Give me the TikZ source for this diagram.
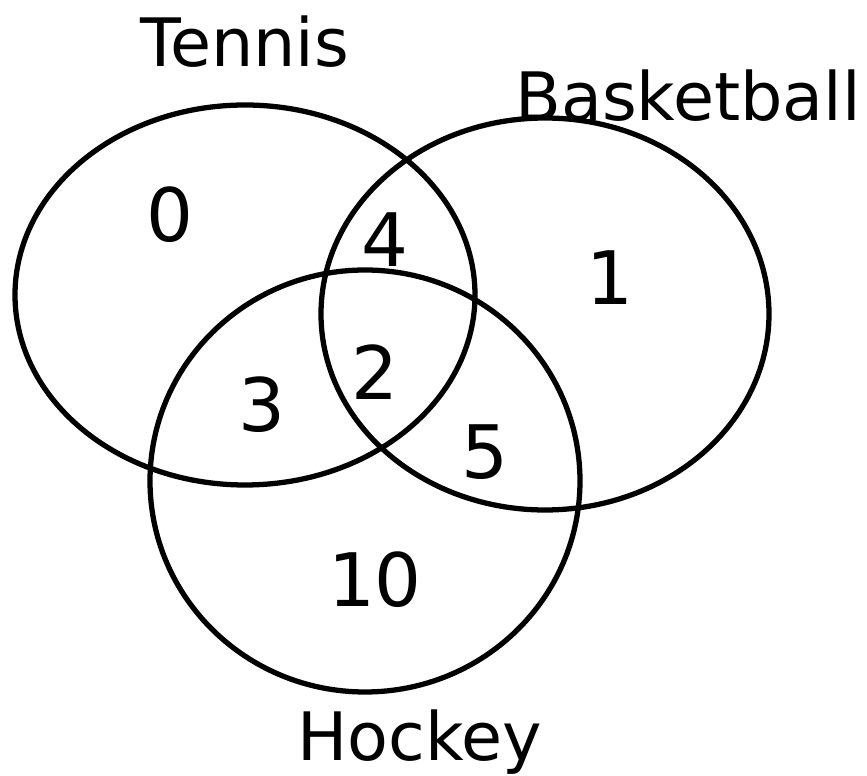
\documentclass[tikz,border=0pt]{standalone}
\usepackage{fontspec}
\setmainfont{DejaVu Sans}
\begin{document}
\begin{tikzpicture}[x=0.02cm,y=-0.02cm,
  setline/.style={line width=3pt,line join=round},
  lbl/.style={font=\fontsize{38}{42}\selectfont},
  num/.style={font=\fontsize{42}{46}\selectfont}]
\useasboundingbox (0,0) rectangle (867,776);
\draw[setline] (245,295) ellipse [x radius=230, y radius=190];
\draw[setline] (545,314) ellipse [x radius=224, y radius=196];
\draw[setline] (365,481) ellipse [x radius=215, y radius=211];
\node[lbl] (tennis) at (245,42) {Tennis};
\node[lbl] (basket) at (688,96) {Basketball};
\node[lbl] (hockey) at (420,742) {Hockey};
\node[num] (n0) at (170,215) {0};
\node[num] (n4) at (385,240) {4};
\node[num] (n1) at (610,278) {1};
\node[num] (n2) at (375,372) {2};
\node[num] (n3) at (262,405) {3};
\node[num] (n5) at (485,452) {5};
\node[num] (n10) at (375,580) {10};
\end{tikzpicture}
\end{document}
